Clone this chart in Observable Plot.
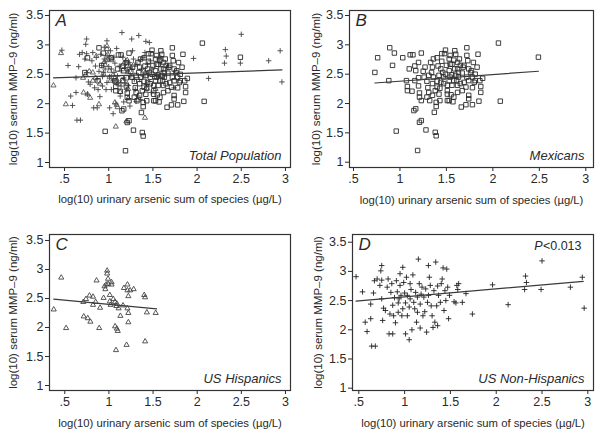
<!DOCTYPE html>
<html>
<head>
<meta charset="utf-8">
<script src="https://cdn.jsdelivr.net/npm/d3@7"></script>
<script src="https://cdn.jsdelivr.net/npm/@observablehq/plot@0.6"></script>
<style>
  html, body { margin: 0; padding: 0; background: #fff; }
  #wrap { position: relative; width: 600px; height: 433px; overflow: hidden; }
  .panel { position: absolute; }
</style>
</head>
<body>
<div id="wrap">
  <div class="panel" id="pA" style="left:0;top:0"></div>
  <div class="panel" id="pB" style="left:300px;top:0"></div>
  <div class="panel" id="pC" style="left:0;top:217px"></div>
  <div class="panel" id="pD" style="left:300px;top:217px"></div>
</div>
<script>
// ---- data: [log10 urinary arsenic, log10 serum MMP-9] ----
const mexicans = [
[0.73,2.53],[0.76,2.78],[0.89,2.95],[0.94,2.86],[0.92,2.65],[0.88,2.39],[0.96,1.53],[1.03,2.78],[1.11,2.83],[1.14,2.83],
[1.23,2.86],[1.10,2.59],[1.07,2.39],[1.08,2.29],[1.08,2.22],[1.13,2.21],[1.16,2.39],[1.16,2.64],[1.17,2.56],[1.20,2.70],
[1.20,2.44],[1.20,2.30],[1.21,2.18],[1.21,2.11],[1.23,2.05],[1.15,1.88],[1.17,1.91],[1.21,1.68],[1.23,1.71],[1.19,1.20],
[1.28,1.55],[1.25,2.55],[1.29,2.38],[1.30,2.27],[1.31,2.19],[1.33,2.70],[1.34,2.53],[1.36,2.76],[1.36,2.45],[1.37,1.85],
[1.38,2.22],[1.39,1.95],[1.39,2.02],[1.38,1.51],[1.39,1.45],[1.40,2.78],[1.40,2.38],[1.41,2.64],[1.42,2.16],[1.43,2.05],
[1.43,2.26],[1.45,2.72],[1.46,2.53],[1.47,2.45],[1.48,2.85],[1.49,2.91],[1.50,2.65],[1.51,2.22],[1.51,2.16],[1.53,2.39],
[1.53,2.56],[1.54,2.82],[1.54,2.67],[1.55,2.15],[1.56,2.49],[1.57,2.03],[1.51,2.05],[1.58,2.74],[1.59,2.59],[1.59,2.90],
[1.60,2.84],[1.61,2.39],[1.62,2.31],[1.62,2.70],[1.63,2.53],[1.64,2.76],[1.65,2.34],[1.66,1.94],[1.67,2.22],[1.68,2.62],
[1.69,2.36],[1.71,1.98],[1.72,2.95],[1.72,2.82],[1.73,2.73],[1.74,2.14],[1.74,2.08],[1.76,2.53],[1.77,2.56],[1.78,1.98],
[1.79,2.70],[1.80,2.36],[1.81,2.50],[1.83,2.62],[1.84,2.84],[1.85,2.04],[1.86,2.39],[1.87,2.29],[1.87,2.19],[1.89,2.43],
[2.06,3.03],[2.08,2.04],[2.49,2.79],
[1.26,2.45],[1.35,2.34],[1.42,2.48],[1.44,2.36],[1.49,2.50],[1.53,2.76],[1.56,2.31],[1.60,2.48],[1.63,2.45],[1.67,2.52],
[1.69,2.65],[1.72,2.45],[1.74,2.39],[1.35,2.62],[1.44,2.59],[1.54,2.45],[1.58,2.39],[1.47,2.34],[1.51,2.31],[1.65,2.65],
[1.62,2.59],[1.74,2.59],[1.78,2.45],[1.81,2.39],[1.58,2.11],[1.62,2.19],[1.29,2.11],[1.35,2.14],[1.40,2.28],[1.32,2.05],
[1.27,2.62],[1.31,2.48],[1.45,2.85],[1.56,2.67],[1.71,2.28],[1.78,2.27],[1.53,2.05]
];
const usHispanics = [
[0.375,2.31],[0.46,2.86],[0.515,1.99],[0.71,2.44],[0.715,2.19],[0.74,2.49],[0.76,2.16],[0.79,2.10],[0.78,2.55],[0.82,2.53],
[0.82,2.39],[0.86,2.81],[0.85,2.44],[0.89,1.99],[0.90,2.34],[0.94,2.51],[0.95,2.71],[0.96,2.66],[0.97,2.74],[0.98,2.98],
[0.98,2.93],[0.99,2.84],[0.99,2.75],[1.01,2.56],[1.01,2.45],[1.02,2.39],[1.03,2.78],[1.03,2.74],[1.05,2.49],[1.07,2.44],
[1.08,1.61],[1.07,2.02],[1.09,1.98],[1.10,1.94],[1.085,2.37],[1.09,2.41],[1.11,2.33],[1.13,2.20],[1.16,2.38],[1.17,2.68],
[1.20,1.70],[1.21,2.74],[1.21,2.64],[1.22,2.54],[1.21,2.33],[1.22,2.25],[1.22,2.09],[1.24,2.64],[1.28,2.66],[1.40,2.56],
[1.41,2.52],[1.41,1.76],[1.43,2.26],[1.53,2.25]
];
const usNonHispanics = [
[0.47,2.91],[0.54,2.65],[0.57,2.13],[0.59,1.97],[0.63,2.19],[0.63,2.44],[0.64,1.72],[0.68,1.72],[0.66,2.63],[0.67,2.84],
[0.70,2.87],[0.73,2.76],[0.74,3.01],[0.75,3.10],[0.75,2.85],[0.75,2.53],[0.77,2.37],[0.76,2.16],[0.79,2.33],[0.81,2.73],
[0.82,2.87],[0.83,1.93],[0.84,2.27],[0.85,2.64],[0.86,2.79],[0.87,1.93],[0.87,2.42],[0.88,2.24],[0.89,2.55],[0.90,2.12],
[0.91,2.84],[0.92,2.65],[0.93,2.30],[0.93,2.46],[0.94,2.53],[0.95,2.96],[0.95,2.76],[0.96,2.59],[0.97,2.24],[0.98,2.36],
[0.98,3.07],[0.99,2.81],[1.00,2.63],[1.01,2.46],[1.01,1.93],[1.02,2.90],[1.03,2.59],[1.03,2.24],[1.05,2.39],[1.05,1.83],
[1.06,2.79],[1.06,2.53],[1.07,2.69],[1.08,2.00],[1.09,2.94],[1.10,2.47],[1.11,2.36],[1.12,2.64],[1.13,2.13],[1.14,2.56],
[1.14,2.30],[1.15,3.21],[1.16,2.79],[1.17,2.44],[1.17,2.03],[1.18,2.61],[1.19,2.73],[1.20,2.24],[1.21,2.56],[1.22,2.31],
[1.23,2.70],[1.24,1.96],[1.25,2.47],[1.26,3.10],[1.26,2.59],[1.27,2.90],[1.28,2.76],[1.29,2.41],[1.30,2.24],[1.31,2.04],
[1.32,2.67],[1.33,2.13],[1.34,3.16],[1.35,2.41],[1.36,2.75],[1.36,2.07],[1.37,2.59],[1.39,2.47],[1.40,2.79],[1.41,2.87],
[1.42,3.06],[1.43,2.33],[1.44,2.67],[1.45,2.50],[1.46,3.04],[1.47,2.73],[1.48,2.19],[1.49,2.59],[1.54,2.48],[1.56,2.46],
[1.57,2.76],[1.58,2.69],[1.59,2.79],[1.63,2.47],[1.67,2.62],[1.74,2.27],[1.96,2.77],[2.13,2.43],[2.31,2.69],[2.32,2.92],
[2.33,2.81],[2.50,3.18],[2.49,2.69],[2.81,2.73],[2.94,2.90],[2.96,2.37]
];
// fitted regression lines: [x, y] at both ends
const fitTotal = [[0.375,2.44],[2.96,2.575]];
const fitMexicans = [[0.73,2.35],[2.49,2.55]];
const fitUSHispanics = [[0.375,2.49],[1.54,2.32]];
const fitUSNonHispanics = [[0.47,2.49],[2.95,2.83]];
const xTicks = [0.5, 1, 1.5, 2, 2.5, 3];
const yTicks = [1, 1.5, 2, 2.5, 3, 3.5];
const xLabel = "log(10) urinary arsenic sum of species (µg/L)";
const yLabel = "log(10) serum MMP–9 (ng/ml)";

const fmt = d => String(d).replace(/^0\./, ".");
const FONT = "'Liberation Sans', Arial, sans-serif";
const INK = "#2a2a2a";

function markFor(group, symbol, r, stroke) {
  return Plot.dot(group, {x: d => d[0], y: d => d[1], symbol: () => symbol, r, fill: "none", stroke, strokeWidth: 0.9});
}

function panel(opts) {
  const {groups, fit, xDomain, yDomain, m, height, letter, name, labelOffX, labelOffY, pvalue} = opts;
  const marks = [
    Plot.axisX({ticks: xTicks, tickFormat: fmt, tickSize: 4, tickPadding: 3, label: null, fontSize: 12.5}),
    Plot.axisX({ticks: [], label: xLabel, labelAnchor: "center", labelOffset: labelOffX, labelArrow: "none", fontSize: 11.3}),
    Plot.axisY({ticks: yTicks, tickFormat: fmt, tickSize: 4, tickPadding: 2, label: null, fontSize: 12.5}),
    Plot.axisY({ticks: [], label: yLabel, labelAnchor: "center", labelOffset: labelOffY, labelArrow: "none", fontSize: 11.5}),
    ...groups.map(g => markFor(g.data, g.symbol, g.r, g.stroke)),
    Plot.line(fit, {x: d => d[0], y: d => d[1], stroke: "#3a3a3a", strokeWidth: 1.2}),
    Plot.frame({stroke: "#333", strokeWidth: 1.2}),
    Plot.text([letter], {frameAnchor: "top-left", dx: 6, dy: 3, fontSize: 17, fontStyle: "italic", fill: INK, lineAnchor: "top"}),
    Plot.text([name], {frameAnchor: "bottom-right", dx: -9, dy: -8, fontSize: 13, fontStyle: "italic", fill: INK, textAnchor: "end", lineAnchor: "bottom"})
  ];
  if (pvalue) {
    marks.push(Plot.text([pvalue[1]], {frameAnchor: "top-right", dx: -12, dy: 7, fontSize: 12.5, fill: INK, textAnchor: "end", lineAnchor: "top"}));
    marks.push(Plot.text([pvalue[0]], {frameAnchor: "top-right", dx: -51, dy: 7, fontSize: 12.5, fontStyle: "italic", fill: INK, textAnchor: "end", lineAnchor: "top"}));
  }
  return Plot.plot({
    width: 300, height,
    marginLeft: m[0], marginRight: m[1], marginTop: m[2], marginBottom: m[3],
    style: {fontFamily: FONT, fontSize: "11px", color: INK, background: "white", overflow: "visible"},
    x: {domain: xDomain},
    y: {domain: yDomain},
    marks
  });
}

const SQ = {symbol: "square", r: 2.5, stroke: "#2a2a2a"};
const TR = {symbol: "triangle", r: 1.9, stroke: "#444"};
const PL = {symbol: "plus", r: 1.9, stroke: "#222"};

document.getElementById("pA").append(panel({
  groups: [{data: usNonHispanics, ...PL, stroke: "#444"}, {data: usHispanics, ...TR, stroke: "#555"}, {data: mexicans, ...SQ}],
  fit: fitTotal, xDomain: [0.33, 3.057], yDomain: [0.915, 3.585],
  m: [49, 10, 10, 50], height: 217, letter: "A", name: "Total Population", labelOffX: 35, labelOffY: 41
}));
document.getElementById("pB").append(panel({
  groups: [{data: mexicans, ...SQ}],
  fit: fitMexicans, xDomain: [0.457, 3.083], yDomain: [0.91, 3.585],
  m: [49, 7, 10, 50], height: 217, letter: "B", name: "Mexicans", labelOffX: 36, labelOffY: 38
}));
document.getElementById("pC").append(panel({
  groups: [{data: usHispanics, ...TR}],
  fit: fitUSHispanics, xDomain: [0.327, 3.057], yDomain: [0.914, 3.603],
  m: [49, 10, 17, 43], height: 216, letter: "C", name: "US Hispanics", labelOffX: 36, labelOffY: 41
}));
document.getElementById("pD").append(panel({
  groups: [{data: usNonHispanics, ...PL}],
  fit: fitUSNonHispanics, xDomain: [0.431, 3.062], yDomain: [0.96, 3.632],
  m: [52, 7, 17, 43], height: 216, letter: "D", name: "US Non-Hispanics", labelOffX: 36, labelOffY: 39,
  pvalue: ["P", "<0.013"]
}));
</script>
</body>
</html>
